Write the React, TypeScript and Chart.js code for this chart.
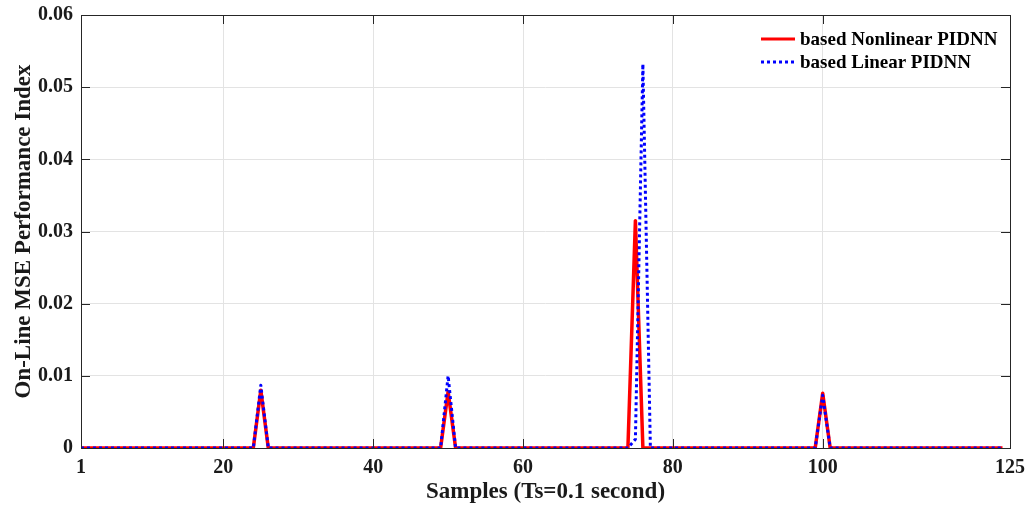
import React, { useEffect, useRef } from "react";
import { Chart, registerables } from "chart.js";

Chart.register(...registerables);

const samples: number[] = Array.from({ length: 124 }, (_, i) => i + 1);

// based Nonlinear PIDNN (samples 1..124)
const nonlinearMSE: number[] = [
  0, 0, 0, 0, 0, 0, 0, 0, 0, 0,
  0, 0, 0, 0, 0, 0, 0, 0, 0, 0,
  0, 0, 0, 0, 0.0080, 0, 0, 0, 0, 0,
  0, 0, 0, 0, 0, 0, 0, 0, 0, 0,
  0, 0, 0, 0, 0, 0, 0, 0, 0, 0.0078,
  0, 0, 0, 0, 0, 0, 0, 0, 0, 0,
  0, 0, 0, 0, 0, 0, 0, 0, 0, 0,
  0, 0, 0, 0, 0.0315, 0, 0, 0, 0, 0,
  0, 0, 0, 0, 0, 0, 0, 0, 0, 0,
  0, 0, 0, 0, 0, 0, 0, 0, 0, 0.0076,
  0, 0, 0, 0, 0, 0, 0, 0, 0, 0,
  0, 0, 0, 0, 0, 0, 0, 0, 0, 0,
  0, 0, 0, 0,
];

// based Linear PIDNN (samples 1..124)
const linearMSE: number[] = [
  0, 0, 0, 0, 0, 0, 0, 0, 0, 0,
  0, 0, 0, 0, 0, 0, 0, 0, 0, 0,
  0, 0, 0, 0, 0.0087, 0, 0, 0, 0, 0,
  0, 0, 0, 0, 0, 0, 0, 0, 0, 0,
  0, 0, 0, 0, 0, 0, 0, 0, 0, 0.0100,
  0, 0, 0, 0, 0, 0, 0, 0, 0, 0,
  0, 0, 0, 0, 0, 0, 0, 0, 0, 0,
  0, 0, 0, 0, 0.0012, 0.0532, 0, 0, 0, 0,
  0, 0, 0, 0, 0, 0, 0, 0, 0, 0,
  0, 0, 0, 0, 0, 0, 0, 0, 0, 0.0073,
  0, 0, 0, 0, 0, 0, 0, 0, 0, 0,
  0, 0, 0, 0, 0, 0, 0, 0, 0, 0,
  0, 0, 0, 0,
];

const xTickValues: number[] = [1, 20, 40, 60, 80, 100, 125];
const yTickValues: number[] = [0, 0.01, 0.02, 0.03, 0.04, 0.05, 0.06];
const seriesLabels: string[] = ["based Nonlinear PIDNN", "based Linear PIDNN"];
const xTitle = "Samples (Ts=0.1 second)";
const yTitle = "On-Line MSE Performance Index";

const FONT = "'Liberation Serif', 'Times New Roman', serif";

const frameAndLegend = {
  id: "frameAndLegend",
  afterDatasetsDraw(chart: any) {
    const { ctx, chartArea: a, scales } = chart;
    ctx.save();
    ctx.strokeStyle = "#262626";
    ctx.lineWidth = 1;
    const tl = 9;
    for (const v of xTickValues) {
      const px = Math.round(scales.x.getPixelForValue(v)) + 0.5;
      ctx.beginPath();
      ctx.moveTo(px, a.bottom);
      ctx.lineTo(px, a.bottom - tl);
      ctx.moveTo(px, a.top);
      ctx.lineTo(px, a.top + tl);
      ctx.stroke();
    }
    for (const v of yTickValues) {
      const py = Math.round(scales.y.getPixelForValue(v)) + 0.5;
      ctx.beginPath();
      ctx.moveTo(a.left, py);
      ctx.lineTo(a.left + tl, py);
      ctx.moveTo(a.right, py);
      ctx.lineTo(a.right - tl, py);
      ctx.stroke();
    }
    ctx.strokeRect(Math.round(a.left) + 0.5, Math.round(a.top) + 0.5, Math.round(a.right - a.left), Math.round(a.bottom - a.top));
    // legend
    const lx0 = a.right - 249;
    const lx1 = lx0 + 34;
    const ys = [a.top + 24, a.top + 47];
    ctx.font = `bold 19px ${FONT}`;
    ctx.textBaseline = "middle";
    ctx.fillStyle = "#000";
    ctx.lineWidth = 3;
    ctx.strokeStyle = "#ff0000";
    ctx.setLineDash([]);
    ctx.beginPath();
    ctx.moveTo(lx0, ys[0]);
    ctx.lineTo(lx1, ys[0]);
    ctx.stroke();
    ctx.strokeStyle = "#0000ff";
    ctx.setLineDash([3, 3]);
    ctx.beginPath();
    ctx.moveTo(lx0, ys[1]);
    ctx.lineTo(lx1, ys[1]);
    ctx.stroke();
    ctx.setLineDash([]);
    ctx.fillText(seriesLabels[0], lx1 + 5, ys[0] + 1);
    ctx.fillText(seriesLabels[1], lx1 + 5, ys[1] + 1);
    ctx.restore();
  },
};

export default function App() {
  const ref = useRef<HTMLCanvasElement>(null);
  useEffect(() => {
    if (!ref.current) return;
    const chart = new Chart(ref.current, {
      type: "line",
      data: {
        labels: samples,
        datasets: [
          {
            label: seriesLabels[1],
            data: samples.map((s, i) => ({ x: s, y: linearMSE[i] })),
            borderColor: "#0000ff",
            borderWidth: 3,
            borderDash: [3, 3],
            borderJoinStyle: "round",
            pointRadius: 0,
            tension: 0,
            order: 1,
          },
          {
            label: seriesLabels[0],
            data: samples.map((s, i) => ({ x: s, y: nonlinearMSE[i] })),
            borderColor: "#ff0000",
            borderWidth: 3.5,
            borderJoinStyle: "round",
            pointRadius: 0,
            tension: 0,
            order: 2,
          },
        ],
      },
      options: {
        responsive: false,
        animation: false,
        layout: { padding: { left: 0, right: 22, top: 15, bottom: 0 } },
        plugins: { legend: { display: false }, tooltip: { enabled: false } },
        scales: {
          x: {
            type: "linear",
            min: 1,
            max: 125,
            afterBuildTicks: (scale: any) => {
              scale.ticks = xTickValues.map((v) => ({ value: v }));
            },
            afterFit: (scale: any) => {
              scale.height = 58;
              scale.paddingLeft = 0;
              scale.paddingRight = 0;
            },
            ticks: {
              color: "#1a1a1a",
              font: { family: FONT, size: 20, weight: "bold" },
              padding: 8,
              maxRotation: 0,
              autoSkip: false,
              callback: (v: any) => String(v),
            },
            grid: { color: "#e3e3e3", drawTicks: false },
            border: { display: false },
            title: {
              display: true,
              text: xTitle,
              color: "#1a1a1a",
              font: { family: FONT, size: 23, weight: "bold" },
              padding: { top: 0, bottom: 0 },
            },
          },
          y: {
            type: "linear",
            min: 0,
            max: 0.06,
            afterBuildTicks: (scale: any) => {
              scale.ticks = yTickValues.map((v) => ({ value: v }));
            },
            afterFit: (scale: any) => {
              scale.width = 81;
              scale.paddingTop = 0;
              scale.paddingBottom = 0;
            },
            ticks: {
              color: "#1a1a1a",
              font: { family: FONT, size: 20, weight: "bold" },
              padding: 8,
              callback: (v: any) => (v === 0 ? "0" : Number(v).toFixed(2)),
            },
            grid: { color: "#e3e3e3", drawTicks: false },
            border: { display: false },
            title: {
              display: true,
              text: yTitle,
              color: "#1a1a1a",
              font: { family: FONT, size: 23, weight: "bold" },
              padding: { top: 10, bottom: 0 },
            },
          },
        },
      },
      plugins: [frameAndLegend],
    });
    return () => chart.destroy();
  }, []);
  return (
    <div style={{ position: "absolute", left: 0, top: 0, width: 1032, height: 506, background: "#fff" }}>
      <canvas ref={ref} width={1032} height={506} />
    </div>
  );
}
